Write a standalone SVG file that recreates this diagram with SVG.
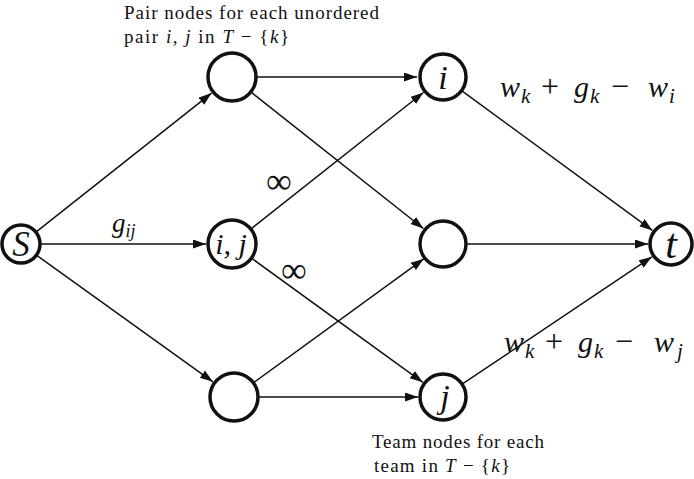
<svg xmlns="http://www.w3.org/2000/svg" width="694" height="479" viewBox="0 0 694 479">
<style>
  .node { fill: #fff; stroke: #111; stroke-width: 3.5; }
  .edge { stroke: #111; stroke-width: 1.5; fill: none; marker-end: url(#arr); }
  .lbl { font-family: "Liberation Serif", "DejaVu Serif", serif; fill: #111; }
  .m { font-style: italic; }
  .txt { font-size: 19px; }
  .big { font-size: 30px; }
  .op { font-size: 32px; }
  .sub { font-size: 21px; font-style: italic; }
</style>
<defs>
  <marker id="arr" markerUnits="userSpaceOnUse" markerWidth="14" markerHeight="10" refX="13" refY="4.5" orient="auto">
    <path d="M0,0 L13,4.5 L0,9 z" fill="#111"/>
  </marker>
</defs>
<rect width="694" height="479" fill="#fff"/>
<g id="connectors">
  <line class="edge" x1="35.9" y1="232.2" x2="211.6" y2="93.1"/>
  <line class="edge" x1="40" y1="244" x2="206" y2="244"/>
  <line class="edge" x1="36.4" y1="255.1" x2="212.9" y2="381.8"/>
  <line class="edge" x1="256" y1="77" x2="417" y2="77"/>
  <line class="edge" x1="250.8" y1="91.9" x2="423.4" y2="228.5"/>
  <line class="edge" x1="250.8" y1="229.1" x2="423.4" y2="92.5"/>
  <line class="edge" x1="251.4" y1="258.1" x2="422.8" y2="382.3"/>
  <line class="edge" x1="253.4" y1="382.8" x2="423.8" y2="258.8"/>
  <line class="edge" x1="258" y1="397" x2="418" y2="397"/>
  <line class="edge" x1="461.6" y1="90.6" x2="652.4" y2="230.4"/>
  <line class="edge" x1="466" y1="244" x2="648" y2="244"/>
  <line class="edge" x1="462.1" y1="384.2" x2="651.9" y2="256.8"/>
  <text class="lbl m" x="112" y="232" font-size="27">g<tspan font-size="18" dy="5">ij</tspan></text>
  <text class="lbl" x="266" y="193" font-size="36">∞</text>
  <text class="lbl" x="281" y="282" font-size="36">∞</text>
  <text class="lbl big" y="97"><tspan class="m" x="500">w</tspan><tspan class="sub" x="521" dy="6">k</tspan><tspan class="op" x="541" dy="-6">+</tspan><tspan class="m" x="574">g</tspan><tspan class="sub" x="590" dy="6">k</tspan><tspan class="op" x="611" dy="-6">−</tspan><tspan class="m" x="648">w</tspan><tspan class="sub" x="669" dy="6">i</tspan></text>
  <text class="lbl big" y="352"><tspan class="m" x="504">w</tspan><tspan class="sub" x="525" dy="6">k</tspan><tspan class="op" x="545" dy="-6">+</tspan><tspan class="m" x="578">g</tspan><tspan class="sub" x="594" dy="6">k</tspan><tspan class="op" x="615" dy="-6">−</tspan><tspan class="m" x="654">w</tspan><tspan class="sub" x="677" dy="6">j</tspan></text>
</g>
<g id="node-s"><circle class="node" cx="21" cy="244" r="19"/><text class="lbl m" x="21" y="256" font-size="35" text-anchor="middle">S</text></g>
<g id="node-pair-top"><circle class="node" cx="232" cy="77" r="24"/></g>
<g id="node-pair-ij"><circle class="node" cx="232" cy="244" r="24"/><text class="lbl m" x="231" y="254" font-size="30" text-anchor="middle">i, j</text></g>
<g id="node-pair-bottom"><circle class="node" cx="234" cy="397" r="24"/></g>
<g id="node-i"><circle class="node" cx="443" cy="77" r="23"/><text class="lbl m" x="443" y="89" font-size="34" text-anchor="middle">i</text></g>
<g id="node-mid"><circle class="node" cx="443" cy="244" r="23"/></g>
<g id="node-j"><circle class="node" cx="443" cy="397" r="23"/><text class="lbl m" x="445" y="408" font-size="34" text-anchor="middle">j</text></g>
<g id="node-t"><circle class="node" cx="671" cy="244" r="21"/><text class="lbl m" x="671" y="258" font-size="42" text-anchor="middle">t</text></g>
<g id="notes">
  <text class="lbl txt" x="124" y="19" textLength="255">Pair nodes for each unordered</text>
  <text class="lbl txt" x="124" y="43" textLength="165">pair <tspan class="m">i</tspan>, <tspan class="m">j</tspan> in <tspan class="m">T</tspan> − {<tspan class="m">k</tspan>}</text>
  <text class="lbl txt" x="372" y="448" textLength="172">Team nodes for each</text>
  <text class="lbl txt" x="374" y="472" textLength="136">team in <tspan class="m">T</tspan> − {<tspan class="m">k</tspan>}</text>
</g>
</svg>
